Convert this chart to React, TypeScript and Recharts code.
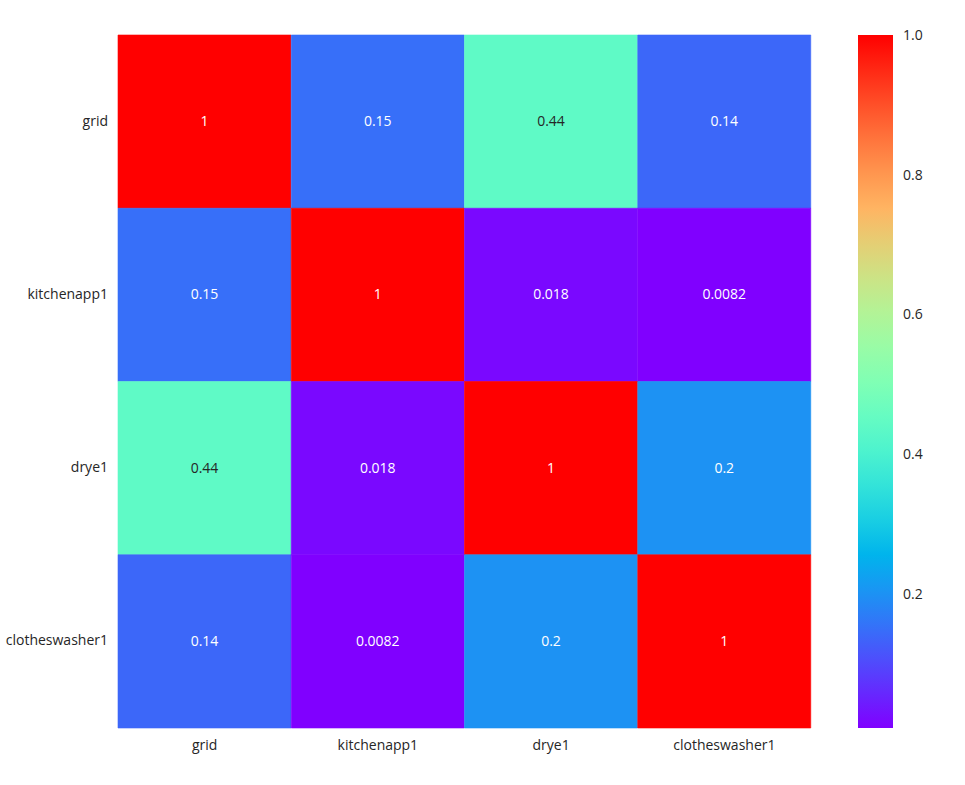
import { BarChart, Bar, XAxis, YAxis, Cell, LabelList } from 'recharts';

const labels = ['grid', 'kitchenapp1', 'drye1', 'clotheswasher1'];
const gridRow = [1, 0.15, 0.44, 0.14];
const kitchenRow = [0.15, 1, 0.018, 0.0082];
const dryeRow = [0.44, 0.018, 1, 0.2];
const washerRow = [0.14, 0.0082, 0.2, 1];
const matrix = [gridRow, kitchenRow, dryeRow, washerRow];
const cbTicks = [0.2, 0.4, 0.6, 0.8, 1.0];
const vmin = 0.0082;
const vmax = 1;

const FONT = '"Open Sans", "Noto Sans", sans-serif';
const TEXT = '#262626';

// matplotlib 'rainbow' colormap
const rainbow = (t: number) => {
  const clip = (v: number) => Math.max(0, Math.min(1, v));
  const r = clip(Math.abs(2 * t - 0.5));
  const g = clip(Math.sin(Math.PI * t));
  const b = clip(Math.cos((Math.PI / 2) * t));
  return [r, g, b];
};
const toHex = (c: number[]) =>
  '#' + c.map((v) => Math.round(v * 255).toString(16).padStart(2, '0')).join('');
const colorFor = (v: number) => toHex(rainbow((v - vmin) / (vmax - vmin)));
const textColorFor = (v: number) => {
  const lin = rainbow((v - vmin) / (vmax - vmin)).map((c) =>
    c <= 0.03928 ? c / 12.92 : Math.pow((c + 0.055) / 1.055, 2.4)
  );
  const lum = 0.2126 * lin[0] + 0.7152 * lin[1] + 0.0722 * lin[2];
  return lum > 0.408 ? TEXT : '#ffffff';
};

// one entry per column; each row is a stacked block of height 1
const data = labels.map((col) => ({ col, r0: 1, r1: 1, r2: 1, r3: 1 }));
const rowKeys = ['r0', 'r1', 'r2', 'r3'];

const cbData = [{ name: 'cb', range: [vmin, vmax] }];
const gradStops = Array.from({ length: 21 }, (_, i) => i / 20);

export default function App() {
  return (
    <div style={{ position: 'absolute', left: 0, top: 0, width: 965, height: 785, background: '#fff', fontFamily: FONT }}>
      <div style={{ position: 'absolute', left: 0, top: 0 }}>
        <BarChart
          width={840}
          height={785}
          data={data}
          margin={{ top: 35, right: 29, left: 0, bottom: 0 }}
          barCategoryGap={0}
          barGap={0}
        >
          <XAxis
            dataKey="col"
            height={57}
            axisLine={false}
            tickLine={false}
            tickMargin={6}
            tick={{ fill: TEXT, fontSize: 14, fontFamily: FONT }}
          />
          <YAxis
            type="number"
            domain={[0, 4]}
            ticks={[0.5, 1.5, 2.5, 3.5]}
            reversed
            width={118}
            axisLine={false}
            tickLine={false}
            tickMargin={4}
            interval={0}
            tickFormatter={(v: number) => labels[Math.floor(v)]}
            tick={{ fill: TEXT, fontSize: 14, fontFamily: FONT, dy: -1 }}
          />
          {rowKeys.map((key, r) => (
            <Bar key={key} dataKey={key} stackId="m" isAnimationActive={false}>
              {matrix[r].map((v, c) => (
                <Cell key={c} fill={colorFor(v)} stroke={colorFor(v)} strokeWidth={0.6} />
              ))}
              <LabelList
                dataKey={key}
                content={(p: any) => {
                  const v = matrix[r][p.index];
                  return (
                    <text
                      x={p.x + p.width / 2}
                      y={p.y + p.height / 2 - 1}
                      textAnchor="middle"
                      dominantBaseline="central"
                      fill={textColorFor(v)}
                      fontSize={14}
                      fontFamily={FONT}
                    >
                      {String(v)}
                    </text>
                  );
                }}
              />
            </Bar>
          ))}
        </BarChart>
      </div>
      <div style={{ position: 'absolute', left: 858, top: 0 }}>
        <BarChart
          width={95}
          height={785}
          data={cbData}
          margin={{ top: 35, right: 0, left: 0, bottom: 57 }}
          barCategoryGap={0}
        >
          <defs>
            <linearGradient id="rainbowGrad" x1="0" y1="1" x2="0" y2="0">
              {gradStops.map((t) => (
                <stop key={t} offset={`${t * 100}%`} stopColor={toHex(rainbow(t))} />
              ))}
            </linearGradient>
          </defs>
          <XAxis dataKey="name" hide />
          <YAxis
            type="number"
            orientation="right"
            domain={[vmin, vmax]}
            ticks={cbTicks}
            width={60}
            axisLine={false}
            tickLine={false}
            tickMargin={4}
            tickFormatter={(v: number) => v.toFixed(1)}
            tick={{ fill: TEXT, fontSize: 14, fontFamily: FONT, textAnchor: 'start' }}
          />
          <Bar dataKey="range" fill="url(#rainbowGrad)" isAnimationActive={false} />
        </BarChart>
      </div>
    </div>
  );
}
